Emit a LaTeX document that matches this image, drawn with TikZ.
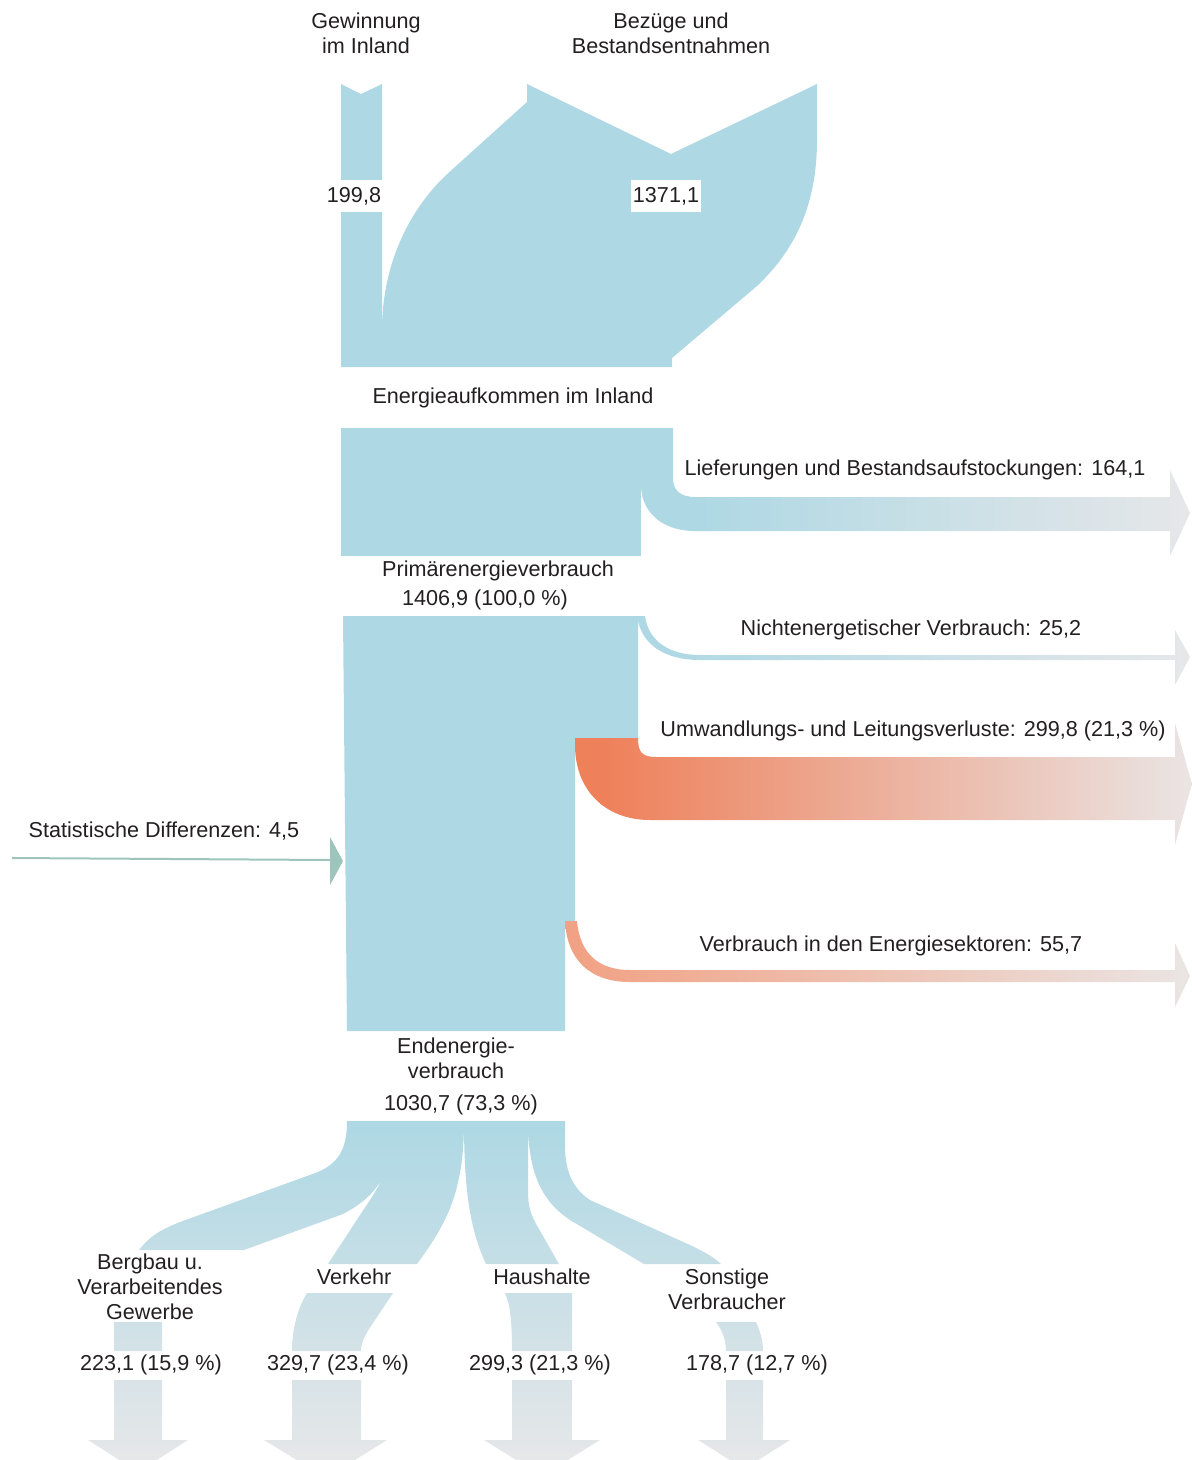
\documentclass[tikz,border=0pt]{standalone}
\usepackage{fontspec}
\setmainfont{Liberation Sans}
\usepackage{xcolor}
\usepackage{tikz}
\usetikzlibrary{positioning}

\definecolor{flussblau}{RGB}{173,216,228}
\definecolor{flussgrau}{RGB}{230,231,233}
\definecolor{verlustrot}{RGB}{238,128,90}
\definecolor{sektorrot}{RGB}{241,160,130}
\definecolor{verlustgrau}{RGB}{234,229,228}
\definecolor{diffgruen}{RGB}{158,197,187}
\definecolor{schrift}{RGB}{35,31,32}

\begin{document}
\begin{tikzpicture}[
	x=1pt, y=-1pt,
	every node/.style={
		font=\fontsize{21.6}{25}\selectfont, text=schrift,
		align=center, inner sep=0pt
	},
	zeile/.style={yshift=-2pt},
	wertbox/.style={fill=white, inner xsep=2pt, inner ysep=7pt}
	]
	\useasboundingbox (0,0) rectangle (1192,1460);
	
	% Aufkommen: Gewinnung und Bezuege
	\fill[flussblau] (341,84) -- (361,94) -- (382,84) -- (382,367) -- (341,367) -- cycle;
	\fill[flussblau] (527,84) -- (671,154) -- (817,84) -- (817,140)
		.. controls (817,205) and (795,250) .. (757,286) -- (672,358) -- (672,367)
		-- (382,367) -- (382,330) .. controls (382,270) and (405,215) .. (445,176)
		-- (527,102) -- cycle;
	\node[wertbox] (gewinnwert) at (354,196) {199,8};
	\node[wertbox] (bezugwert) at (666,196) {1371,1};
	
	% Primaerenergie und Lieferungen
	\fill[flussblau] (341,428) rectangle (641,556);
	\begin{scope}
		\clip (640,428) -- (673,428) -- (673,478) .. controls (673,490) and (680,497) .. (695,497)
			-- (1170,497) -- (1170,470) -- (1190,513) -- (1170,556) -- (1170,531) -- (695,531)
			.. controls (660,531) and (641,510) .. (641,485) -- cycle;
		\fill[flussblau] (630,420) rectangle (690,560);
		\shade[left color=flussblau, right color=flussgrau] (689,420) rectangle (1192,560);
	\end{scope}
	
	% Endenergie-Block mit Abgaengen
	\fill[flussblau] (343,616) -- (638,616) -- (638,740) -- (575,740) -- (575,923)
		-- (565,923) -- (565,1031) -- (347,1031) -- cycle;
	\begin{scope}
		\clip (637,616) -- (645,616) .. controls (648,640) and (668,655) .. (700,655)
			-- (1175,655) -- (1175,630) -- (1190,657) -- (1175,685) -- (1175,660) -- (700,660)
			.. controls (665,660) and (641,645) .. (637,616) -- cycle;
		\shade[left color=flussblau, right color=flussgrau] (655,600) rectangle (1192,700);
		\fill[flussblau] (630,600) rectangle (656,700);
	\end{scope}
	\begin{scope}
		\clip (575,738) -- (638,738) .. controls (638,752) and (642,757) .. (656,757)
			-- (1175,757) -- (1175,723) -- (1192,784) -- (1175,845) -- (1175,820) -- (650,820)
			.. controls (605,820) and (575,790) .. (575,745) -- cycle;
		\fill[verlustrot] (560,720) rectangle (601,850);
		\shade[left color=verlustrot, right color=verlustgrau] (600,720) rectangle (1192,850);
	\end{scope}
	\begin{scope}
		\clip (565,921) -- (577,921) .. controls (580,955) and (600,970) .. (630,970)
			-- (1175,970) -- (1175,943) -- (1190,976) -- (1175,1007) -- (1175,982) -- (630,982)
			.. controls (590,982) and (567,960) .. (565,921) -- cycle;
		\shade[left color=sektorrot, right color=verlustgrau] (560,900) rectangle (1192,1010);
	\end{scope}
	
	% Statistische Differenzen
	\coordinate (diffstart) at (12,858);
	\coordinate (diffende) at (331,860);
	\coordinate (diffspitze) at (343,861);
	\draw[diffgruen, line width=2pt] (diffstart) -- (diffende);
	\fill[diffgruen] (330,837) -- (diffspitze) -- (330,885) -- cycle;
	
	% Endenergie nach Sektoren
	\begin{scope}
		\clip
			% Bergbau
			(347,1121) -- (394,1121) .. controls (394,1175) and (375,1197) .. (343,1214)
			-- (244,1250) -- (139,1250) .. controls (150,1236) and (160,1230) .. (180,1222)
			-- (318,1172) .. controls (338,1163) and (347,1150) .. (347,1121) -- cycle
			(114,1322) rectangle (162,1351)
			(114,1380) -- (162,1380) -- (162,1440) -- (188,1440) -- (138,1472) -- (88,1440)
			-- (114,1440) -- cycle
			% Verkehr
			(394,1121) -- (464,1121) .. controls (464,1190) and (448,1222) .. (417,1264)
			-- (328,1264) -- (362,1212) .. controls (384,1180) and (394,1160) .. (394,1121) -- cycle
			(307,1293) -- (393,1293) -- (375,1320) .. controls (366,1333) and (361,1342) .. (361,1351)
			-- (292,1351) .. controls (292,1328) and (298,1308) .. (307,1293) -- cycle
			(292,1380) -- (361,1380) -- (361,1440) -- (387,1440) -- (326,1478) -- (264,1440)
			-- (292,1440) -- cycle
			% Haushalte
			(464,1121) -- (528,1121) -- (528,1190) .. controls (528,1205) and (530,1212) .. (535,1222)
			-- (559,1264) -- (486,1264) .. controls (470,1230) and (464,1190) .. (464,1121) -- cycle
			(505,1293) -- (572,1293) -- (572,1351) -- (512,1351)
			.. controls (512,1320) and (510,1305) .. (505,1293) -- cycle
			(512,1380) -- (572,1380) -- (572,1440) -- (600,1440) -- (542,1476) -- (484,1440)
			-- (512,1440) -- cycle
			% Sonstige
			(528,1121) -- (565,1121) -- (565,1145) .. controls (565,1175) and (575,1190) .. (590,1200)
			-- (690,1245) .. controls (705,1252) and (715,1258) .. (721,1264) -- (644,1264)
			-- (570,1220) .. controls (540,1200) and (528,1170) .. (528,1121) -- cycle
			(716,1322) -- (756,1322) .. controls (762,1335) and (763,1345) .. (763,1351)
			-- (726,1351) .. controls (726,1340) and (722,1330) .. (716,1322) -- cycle
			(726,1380) -- (763,1380) -- (763,1440) -- (790,1440) -- (744,1469) -- (698,1440)
			-- (726,1440) -- cycle;
		\shade[top color=flussblau, bottom color=flussgrau] (0,1121) rectangle (1192,1460);
	\end{scope}
	
	% Beschriftungen
	\node (gewinnung) at (366,33) {Gewinnung\\im Inland};
	\node (bezuege) at (671,33) {Bezüge und\\Bestandsentnahmen};
	\node[zeile] (aufkommen) at (513,396) {Energieaufkommen im Inland};
	\node[zeile] (primaer) at (498,569) {Primärenergieverbrauch};
	\node[zeile] (primaerwert) at (485,598) {1406,9 (100,0 \%)};
	\node[zeile] (lieferungen) at (915,468) {Lieferungen und Bestandsaufstockungen: 164,1};
	\node[zeile] (nichtenerg) at (911,628) {Nichtenergetischer Verbrauch: 25,2};
	\node[zeile] (umwandlung) at (913,729) {Umwandlungs- und Leitungsverluste: 299,8 (21,3 \%)};
	\node[zeile] (sektoren) at (891,944) {Verbrauch in den Energiesektoren: 55,7};
	\node[zeile] (statdiff) at (164,829) {Statistische Differenzen: 4,5};
	\node (endenergie) at (456,1058) {Endenergie-\\verbrauch};
	\node[zeile] (endwert) at (461,1103) {1030,7 (73,3 \%)};
	
	\node (bergbau) at (150,1287) {Bergbau u.\\Verarbeitendes\\Gewerbe};
	\node (verkehr) at (354,1277) {Verkehr};
	\node (haushalte) at (542,1277) {Haushalte};
	\node (sonstige) at (727,1289) {Sonstige\\Verbraucher};
	\node[zeile] (bergbauwert) at (151,1363) {223,1 (15,9 \%)};
	\node[zeile] (verkehrwert) at (338,1363) {329,7 (23,4 \%)};
	\node[zeile] (haushaltwert) at (540,1363) {299,3 (21,3 \%)};
	\node[zeile] (sonstwert) at (757,1363) {178,7 (12,7 \%)};
	
\end{tikzpicture}
\end{document}
